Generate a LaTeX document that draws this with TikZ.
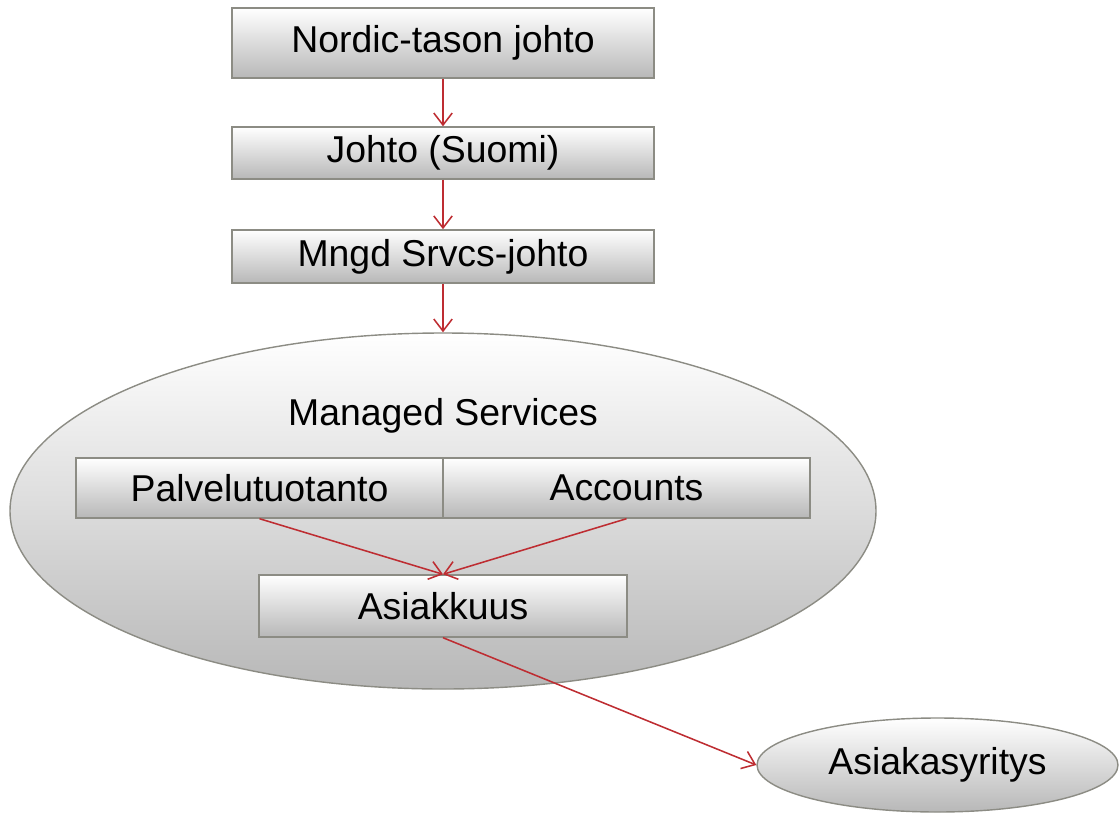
\documentclass[tikz,border=0pt]{standalone}
\usepackage{fontspec}
\setmainfont{Liberation Sans}
\usetikzlibrary{shapes.geometric, arrows.meta, positioning}
\definecolor{edgegray}{RGB}{140,140,132}
\definecolor{arrowred}{RGB}{190,45,50}

\begin{document}
\begin{tikzpicture}[
		box/.style={draw=edgegray, line width=1pt, rectangle, inner sep=0pt,
			top color=white, bottom color=black!28, minimum width=10.55cm,
			font=\fontsize{26.6}{30}\selectfont},
		oval/.style={draw=edgegray, line width=1pt, ellipse, inner sep=0pt,
			top color=white, bottom color=black!28,
			font=\fontsize{26.6}{30}\selectfont},
		link/.style={arrowred, line width=1.1pt, -{Straight Barb[length=3mm,width=4.6mm]}}
	]
	\useasboundingbox (0,0) rectangle (28,-20.35);
	% chain of management
	\node[box, minimum height=1.75cm] (nordic) at (11.075,-1.075) {Nordic-tason johto};
	\node[box, minimum height=1.3cm] (johto) at (11.075,-3.825) {Johto (Suomi)};
	\node[box, minimum height=1.33cm] (mngd) at (11.075,-6.4125) {Mngd Srvcs-johto};
	% managed services
	\node[oval, minimum width=21.65cm, minimum height=8.9cm] (ms) at (11.075,-12.775) {};
	\node[font=\fontsize{26.6}{30}\selectfont] (mstitle) at (11.075,-10.4) {Managed Services};
	\node[box, minimum width=9.175cm, minimum height=1.5cm] (palvelu) at (6.4875,-12.2) {Palvelutuotanto};
	\node[box, minimum width=9.175cm, minimum height=1.5cm] (accounts) at (15.6625,-12.2) {Accounts};
	\node[box, minimum width=9.2cm, minimum height=1.55cm] (asiakkuus) at (11.075,-15.15) {Asiakkuus};
	\node[oval, minimum width=9.025cm, minimum height=2.35cm] (yritys) at (23.4375,-19.125) {Asiakasyritys};
	% arrows
	\draw[link] (nordic) -- (johto);
	\draw[link] (johto) -- (mngd);
	\draw[link] (mngd) -- (ms);
	\draw[link] (palvelu.south) -- (asiakkuus.north);
	\draw[link] (accounts.south) -- (asiakkuus.north);
	\draw[link] (asiakkuus.south) -- (yritys.west);
\end{tikzpicture}
\end{document}
